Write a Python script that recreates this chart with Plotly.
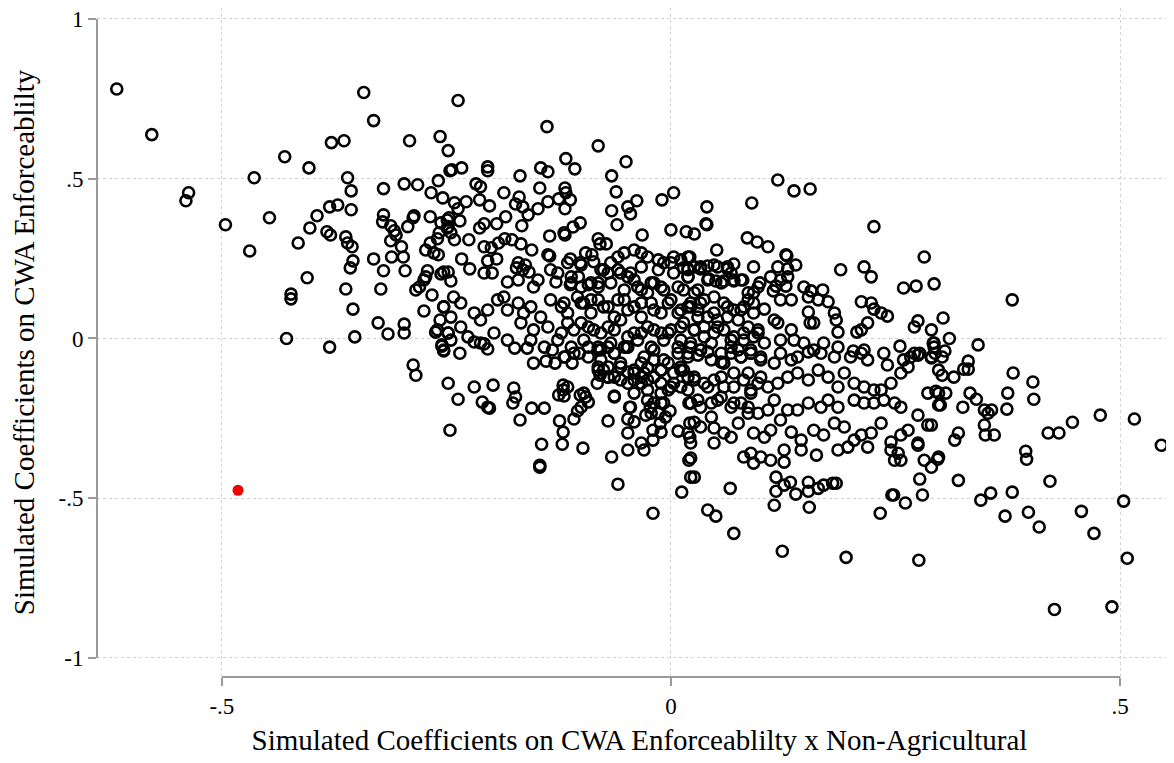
import plotly.graph_objects as go

# Simulated coefficient pairs (x = CWA Enforceability x Non-Agricultural, y = CWA Enforceability)
sims_upper_left = [
    (-0.617, 0.781), (-0.578, 0.638), (-0.537, 0.456), (-0.540, 0.431), (-0.496, 0.356),
    (-0.464, 0.503), (-0.469, 0.274), (-0.447, 0.378), (-0.430, 0.569), (-0.403, 0.534),
    (-0.415, 0.299), (-0.402, 0.346), (-0.394, 0.384), (-0.405, 0.190), (-0.423, 0.139),
    (-0.423, 0.124), (-0.428, 0.000), (-0.380, -0.027), (-0.378, 0.613), (-0.364, 0.619),
    (-0.342, 0.770), (-0.331, 0.682), (-0.360, 0.503), (-0.356, 0.462), (-0.356, 0.403),
    (-0.380, 0.412), (-0.371, 0.418), (-0.383, 0.334), (-0.379, 0.324), (-0.362, 0.318),
    (-0.360, 0.299), (-0.355, 0.287), (-0.354, 0.243), (-0.357, 0.221), (-0.362, 0.155),
    (-0.354, 0.092), (-0.352, 0.005), (-0.320, 0.469), (-0.297, 0.484), (-0.282, 0.481),
    (-0.291, 0.619), (-0.257, 0.632), (-0.248, 0.588), (-0.246, 0.525), (-0.259, 0.494),
    (-0.267, 0.456), (-0.254, 0.440), (-0.320, 0.387), (-0.321, 0.365), (-0.312, 0.353),
    (-0.308, 0.337), (-0.306, 0.324), (-0.286, 0.384), (-0.287, 0.378), (-0.293, 0.350),
    (-0.268, 0.381), (-0.249, 0.371), (-0.248, 0.350), (-0.258, 0.331), (-0.260, 0.312),
    (-0.312, 0.306), (-0.300, 0.287), (-0.298, 0.255), (-0.311, 0.255), (-0.331, 0.249),
    (-0.268, 0.299), (-0.273, 0.277), (-0.264, 0.268), (-0.259, 0.262), (-0.320, 0.212),
    (-0.296, 0.212), (-0.271, 0.212), (-0.273, 0.193), (-0.275, 0.183), (-0.256, 0.202),
    (-0.248, 0.208), (-0.323, 0.155), (-0.284, 0.152), (-0.280, 0.161), (-0.266, 0.136),
    (-0.253, 0.099), (-0.275, 0.086), (-0.326, 0.049), (-0.315, 0.014), (-0.297, 0.045),
    (-0.297, 0.017), (-0.257, 0.058), (-0.260, 0.027), (-0.248, 0.017), (-0.255, -0.020),
]

sims_upper_mid = [
    (-0.237, 0.745), (-0.138, 0.663), (-0.081, 0.603), (-0.050, 0.553), (-0.117, 0.563),
    (-0.107, 0.531), (-0.145, 0.534), (-0.137, 0.522), (-0.204, 0.537), (-0.204, 0.525),
    (-0.244, 0.528), (-0.233, 0.534), (-0.168, 0.509), (-0.066, 0.509), (-0.217, 0.484),
    (-0.212, 0.475), (-0.186, 0.456), (-0.146, 0.471), (-0.118, 0.471), (-0.117, 0.456),
    (-0.169, 0.443), (-0.173, 0.421), (-0.165, 0.412), (-0.061, 0.459), (-0.038, 0.431),
    (-0.010, 0.434), (0.003, 0.456), (-0.241, 0.425), (-0.228, 0.428), (-0.237, 0.406),
    (-0.213, 0.434), (-0.202, 0.415), (-0.137, 0.428), (-0.125, 0.437), (-0.112, 0.434),
    (-0.148, 0.406), (-0.159, 0.387), (-0.118, 0.406), (-0.066, 0.400), (-0.048, 0.412),
    (-0.045, 0.390), (-0.256, 0.362), (-0.247, 0.378), (-0.235, 0.368), (-0.249, 0.346),
    (-0.245, 0.331), (-0.241, 0.309), (-0.208, 0.359), (-0.213, 0.346), (-0.194, 0.359),
    (-0.184, 0.381), (-0.166, 0.353), (-0.101, 0.362), (-0.109, 0.349), (-0.119, 0.331),
    (-0.118, 0.324), (-0.135, 0.321), (-0.060, 0.356), (-0.032, 0.324), (0.000, 0.340),
    (0.017, 0.334), (0.026, 0.327), (-0.225, 0.309), (-0.208, 0.287), (-0.200, 0.284),
    (-0.192, 0.299), (-0.185, 0.312), (-0.177, 0.309), (-0.167, 0.296), (-0.155, 0.277),
    (-0.137, 0.262), (-0.135, 0.258), (-0.112, 0.249), (-0.101, 0.237), (-0.095, 0.268),
    (-0.088, 0.262), (-0.081, 0.312), (-0.072, 0.296), (-0.079, 0.296), (-0.233, 0.249),
    (-0.224, 0.218), (-0.253, 0.208), (-0.245, 0.180), (-0.204, 0.243), (-0.194, 0.249),
    (-0.199, 0.205), (-0.208, 0.205), (-0.170, 0.237), (-0.162, 0.230), (-0.165, 0.215),
    (-0.158, 0.208), (-0.172, 0.221), (-0.182, 0.177), (-0.170, 0.183), (-0.148, 0.183),
    (-0.153, 0.161), (-0.134, 0.215), (-0.126, 0.205), (-0.128, 0.177), (-0.111, 0.193),
    (-0.103, 0.193), (-0.112, 0.168), (-0.100, 0.161), (-0.089, 0.174), (-0.081, 0.174),
    (-0.078, 0.215), (-0.067, 0.237), (-0.059, 0.255), (-0.052, 0.268), (-0.041, 0.277),
    (-0.033, 0.268), (-0.026, 0.255), (-0.014, 0.246), (-0.008, 0.237), (0.003, 0.255),
    (0.011, 0.246), (0.019, 0.255), (-0.070, 0.205), (-0.056, 0.205), (-0.048, 0.193),
    (-0.041, 0.183), (-0.033, 0.152), (-0.026, 0.143), (-0.019, 0.174), (-0.011, 0.161),
    (0.003, 0.205), (0.019, 0.215), (0.026, 0.224),
]

sims_center_band = [
    (-0.253, 0.099), (-0.242, 0.130), (-0.234, 0.111), (-0.245, 0.067), (-0.248, 0.017),
    (-0.234, 0.036), (-0.219, 0.080), (-0.212, 0.058), (-0.204, 0.089), (-0.193, 0.121),
    (-0.186, 0.130), (-0.182, 0.089), (-0.170, 0.111), (-0.164, 0.080), (-0.156, 0.099),
    (-0.145, 0.067), (-0.134, 0.121), (-0.122, 0.099), (-0.115, 0.080), (-0.104, 0.130),
    (-0.097, 0.111), (-0.089, 0.080), (-0.081, 0.121), (-0.070, 0.099), (-0.063, 0.067),
    (-0.052, 0.121), (-0.041, 0.099), (-0.033, 0.067), (-0.022, 0.111), (-0.011, 0.080),
    (0.000, 0.121), (0.011, 0.089), (0.022, 0.111), (0.030, 0.067), (-0.167, 0.049),
    (-0.153, 0.027), (-0.137, 0.036), (-0.122, 0.017), (-0.108, 0.027), (-0.092, 0.036),
    (-0.078, 0.017), (-0.063, 0.027), (-0.048, 0.005), (-0.033, 0.017), (-0.019, 0.027),
    (-0.003, 0.017), (0.011, 0.036), (0.026, 0.027), (-0.245, -0.005), (-0.226, 0.005),
    (-0.212, -0.014), (-0.197, 0.017), (-0.182, -0.005), (-0.156, -0.005), (-0.141, -0.027),
    (-0.126, -0.005), (-0.111, -0.027), (-0.097, -0.005), (-0.081, -0.027), (-0.067, -0.014),
    (-0.052, -0.027), (-0.037, -0.005), (-0.022, -0.027), (-0.008, -0.005), (0.008, -0.027),
]

sims_upper_right = [
    (0.119, 0.496), (0.137, 0.462), (0.155, 0.468), (0.090, 0.424), (0.040, 0.412),
    (0.039, 0.359), (0.040, 0.356), (0.085, 0.315), (0.096, 0.302), (0.108, 0.287),
    (0.226, 0.350), (0.282, 0.255), (0.051, 0.277), (0.021, 0.255), (0.019, 0.218),
    (0.019, 0.193), (0.033, 0.218), (0.041, 0.227), (0.052, 0.224), (0.063, 0.218),
    (0.070, 0.233), (0.067, 0.205), (0.042, 0.187), (0.050, 0.180), (0.059, 0.180),
    (0.070, 0.180), (0.080, 0.183), (0.128, 0.262), (0.129, 0.259), (0.139, 0.230),
    (0.130, 0.218), (0.119, 0.224), (0.111, 0.193), (0.122, 0.183), (0.130, 0.193),
    (0.128, 0.164), (0.189, 0.215), (0.215, 0.224), (0.223, 0.193), (0.259, 0.158),
    (0.273, 0.164), (0.293, 0.171), (0.099, 0.174), (0.092, 0.143), (0.086, 0.121),
    (0.148, 0.161), (0.156, 0.149), (0.153, 0.130), (0.169, 0.152), (0.164, 0.121),
    (0.175, 0.115), (0.212, 0.115), (0.223, 0.111), (0.226, 0.092), (0.234, 0.080),
    (0.241, 0.070), (0.219, 0.049), (0.212, 0.027), (0.207, 0.020), (0.186, 0.020),
    (0.182, 0.080), (0.184, 0.058), (0.275, 0.055), (0.271, 0.036), (0.290, 0.027),
    (0.153, 0.083), (0.155, 0.049), (0.159, 0.049), (0.104, 0.092), (0.122, 0.121),
    (0.134, 0.121), (0.114, 0.149), (0.117, 0.164), (0.115, 0.058), (0.119, 0.049),
    (0.122, -0.005), (0.134, 0.027), (0.137, -0.005), (0.148, -0.014), (0.159, -0.036),
    (0.170, -0.014), (0.186, -0.027), (0.203, -0.039), (0.215, -0.036), (0.255, -0.024),
    (0.271, -0.046), (0.277, -0.046), (0.292, -0.014), (0.294, -0.046),
    (0.014, 0.152), (0.026, 0.143), (0.037, 0.121), (0.048, 0.130), (0.059, 0.111),
    (0.070, 0.089), (0.081, 0.099), (0.092, 0.080), (0.019, 0.099), (0.030, 0.089),
    (0.041, 0.067), (0.052, 0.058), (0.063, 0.067), (0.075, 0.058), (0.086, 0.036),
    (0.097, 0.017), (0.014, 0.049), (0.026, 0.027), (0.037, 0.036), (0.048, 0.017),
    (0.059, 0.027), (0.070, 0.005), (0.081, -0.005), (0.092, 0.005), (0.104, -0.014),
    (0.022, -0.027), (0.033, -0.036), (0.045, -0.014), (0.056, -0.046), (0.067, -0.027),
    (0.078, -0.058), (0.089, -0.036), (0.100, -0.058),
]

sims_lower_left = [
    (-0.262, 0.020), (-0.255, -0.024), (-0.253, -0.039), (-0.287, -0.083), (-0.284, -0.115),
    (-0.248, -0.140), (-0.246, -0.287), (-0.253, -0.036), (-0.235, -0.046), (-0.219, -0.011),
    (-0.208, -0.017), (-0.204, -0.033), (-0.174, -0.030), (-0.160, -0.030), (-0.153, -0.077),
    (-0.139, -0.071), (-0.129, -0.077), (-0.132, -0.036), (-0.118, -0.058), (-0.110, -0.077),
    (-0.102, -0.046), (-0.092, -0.058), (-0.081, -0.036), (-0.070, -0.027), (-0.063, -0.046),
    (-0.049, -0.027), (-0.237, -0.190), (-0.219, -0.152), (-0.210, -0.199), (-0.204, -0.215),
    (-0.202, -0.218), (-0.198, -0.146), (-0.175, -0.155), (-0.173, -0.183), (-0.176, -0.202),
    (-0.168, -0.255), (-0.155, -0.218), (-0.141, -0.218), (-0.144, -0.331), (-0.146, -0.397),
    (-0.146, -0.403), (-0.124, -0.258), (-0.120, -0.293), (-0.121, -0.331), (-0.120, -0.146),
    (-0.120, -0.161), (-0.125, -0.177), (-0.119, -0.180), (-0.108, -0.252), (-0.104, -0.227),
    (-0.098, -0.343), (-0.101, -0.177), (-0.095, -0.183), (-0.092, -0.199), (-0.082, -0.140),
    (-0.079, -0.115), (-0.075, -0.099), (-0.081, -0.089), (-0.063, -0.180), (-0.070, -0.258),
    (-0.066, -0.371), (-0.059, -0.456), (-0.048, -0.349), (-0.048, -0.296), (-0.048, -0.252),
    (-0.046, -0.215), (-0.041, -0.261), (-0.041, -0.171), (-0.033, -0.140), (-0.026, -0.161),
    (-0.019, -0.121), (-0.011, -0.140), (-0.030, -0.108), (-0.041, -0.099), (-0.033, -0.327),
    (-0.030, -0.349), (-0.020, -0.318), (-0.020, -0.287), (-0.011, -0.293), (-0.012, -0.265),
    (-0.014, -0.234), (-0.022, -0.234), (-0.028, -0.240), (-0.006, -0.246), (-0.001, -0.227),
    (-0.008, -0.202), (-0.019, -0.202), (-0.023, -0.215), (0.008, -0.290), (0.012, -0.481),
    (-0.020, -0.547), (-0.078, -0.067), (-0.070, -0.089), (-0.063, -0.121), (-0.056, -0.077),
    (-0.048, -0.105), (-0.041, -0.130), (-0.033, -0.077), (-0.026, -0.092), (-0.019, -0.067),
    (-0.011, -0.099), (-0.003, -0.077), (0.003, -0.108), (0.011, -0.089), (0.019, -0.121),
    (0.003, -0.140), (-0.003, -0.161), (0.011, -0.152), (0.019, -0.161), (-0.011, -0.171),
    (-0.070, -0.121), (-0.056, -0.130), (-0.048, -0.140), (-0.033, -0.121), (0.020, -0.202),
    (0.021, -0.265), (0.021, -0.309), (0.020, -0.381), (0.022, -0.434),
]

sims_lower_right = [
    (0.019, -0.046), (0.030, -0.052), (0.041, -0.042), (0.056, -0.074), (0.067, -0.046),
    (0.078, -0.058), (0.089, -0.046), (0.100, -0.067), (0.115, -0.077), (0.122, -0.046),
    (0.134, -0.067), (0.141, -0.058), (0.153, -0.042), (0.167, -0.046), (0.182, -0.058),
    (0.200, -0.058), (0.212, -0.046), (0.219, -0.067), (0.237, -0.046), (0.241, -0.083),
    (0.259, -0.067), (0.267, -0.058), (0.275, -0.052), (0.290, -0.058), (0.298, -0.099),
    (0.014, -0.099), (0.026, -0.121), (0.037, -0.140), (0.048, -0.130), (0.059, -0.152),
    (0.070, -0.108), (0.081, -0.130), (0.089, -0.161), (0.100, -0.121), (0.108, -0.152),
    (0.119, -0.140), (0.130, -0.121), (0.141, -0.108), (0.153, -0.130), (0.164, -0.099),
    (0.175, -0.121), (0.186, -0.152), (0.193, -0.108), (0.204, -0.140), (0.215, -0.152),
    (0.226, -0.161), (0.234, -0.161), (0.245, -0.140), (0.256, -0.108), (0.264, -0.089),
    (0.286, -0.171), (0.298, -0.171), (0.022, -0.202), (0.030, -0.193), (0.045, -0.202),
    (0.056, -0.183), (0.067, -0.215), (0.078, -0.202), (0.089, -0.171), (0.097, -0.234),
    (0.108, -0.224), (0.115, -0.193), (0.130, -0.224), (0.141, -0.224), (0.153, -0.202),
    (0.167, -0.215), (0.175, -0.193), (0.186, -0.215), (0.204, -0.193), (0.215, -0.202),
    (0.226, -0.202), (0.237, -0.193), (0.249, -0.202), (0.256, -0.215), (0.275, -0.240),
    (0.286, -0.271), (0.298, -0.208), (0.019, -0.296), (0.026, -0.262), (0.033, -0.277),
    (0.045, -0.246), (0.048, -0.280), (0.059, -0.296), (0.067, -0.309), (0.075, -0.265),
    (0.086, -0.234), (0.092, -0.296), (0.104, -0.309), (0.111, -0.287), (0.122, -0.255),
    (0.134, -0.293), (0.145, -0.318), (0.159, -0.287), (0.170, -0.302), (0.182, -0.265),
    (0.193, -0.277), (0.204, -0.318), (0.212, -0.302), (0.223, -0.296), (0.234, -0.265),
    (0.245, -0.324), (0.256, -0.302), (0.264, -0.287), (0.275, -0.327), (0.022, -0.327),
    (0.048, -0.327), (0.081, -0.371), (0.089, -0.359), (0.100, -0.371), (0.111, -0.381),
    (0.126, -0.349), (0.126, -0.387), (0.145, -0.349), (0.162, -0.365), (0.186, -0.349),
    (0.197, -0.340), (0.219, -0.340), (0.245, -0.349), (0.249, -0.381), (0.253, -0.359),
    (0.256, -0.381), (0.275, -0.334), (0.282, -0.381), (0.290, -0.403), (0.298, -0.371),
    (0.022, -0.374), (0.092, -0.390), (0.026, -0.434), (0.066, -0.469), (0.041, -0.537),
    (0.050, -0.556), (0.070, -0.610), (0.117, -0.434), (0.117, -0.478), (0.115, -0.522),
    (0.126, -0.459), (0.133, -0.450), (0.139, -0.487), (0.153, -0.450), (0.153, -0.478),
    (0.164, -0.469), (0.170, -0.459), (0.180, -0.453), (0.184, -0.453), (0.154, -0.528),
    (0.124, -0.666), (0.195, -0.685), (0.233, -0.547), (0.246, -0.490), (0.248, -0.490),
    (0.261, -0.515), (0.277, -0.440), (0.280, -0.490), (0.276, -0.694),
]

sims_far_right = [
    (0.380, 0.121), (0.303, 0.064), (0.310, 0.000), (0.293, -0.014), (0.293, -0.027),
    (0.305, -0.039), (0.302, -0.058), (0.290, -0.061), (0.342, -0.020), (0.331, -0.071),
    (0.326, -0.096), (0.331, -0.096), (0.302, -0.115), (0.315, -0.121), (0.381, -0.108),
    (0.403, -0.136), (0.404, -0.190), (0.375, -0.171), (0.374, -0.221), (0.295, -0.165),
    (0.306, -0.171), (0.300, -0.208), (0.333, -0.171), (0.340, -0.190), (0.325, -0.215),
    (0.349, -0.224), (0.353, -0.234), (0.357, -0.224), (0.349, -0.271), (0.350, -0.302),
    (0.360, -0.302), (0.320, -0.296), (0.316, -0.318), (0.290, -0.271), (0.395, -0.353),
    (0.396, -0.378), (0.420, -0.296), (0.432, -0.296), (0.447, -0.262), (0.478, -0.240),
    (0.516, -0.252), (0.546, -0.334), (0.297, -0.378), (0.320, -0.444), (0.345, -0.506),
    (0.356, -0.484), (0.380, -0.481), (0.422, -0.447), (0.372, -0.556), (0.398, -0.544),
    (0.410, -0.590), (0.457, -0.541), (0.471, -0.610), (0.504, -0.509), (0.508, -0.688),
    (0.427, -0.848), (0.491, -0.840),
]

sims_dense_core = [
    (-0.115, 0.237), (-0.100, 0.230), (-0.086, 0.240), (-0.075, 0.215), (-0.059, 0.215),
    (-0.045, 0.205), (-0.033, 0.224), (-0.014, 0.215), (0.000, 0.237), (0.014, 0.221),
    (0.033, 0.224), (0.048, 0.230), (0.063, 0.224), (0.078, 0.183), (0.092, 0.224),
    (-0.111, 0.174), (-0.092, 0.168), (-0.081, 0.161), (-0.067, 0.174), (-0.052, 0.152),
    (-0.037, 0.161), (-0.022, 0.174), (-0.008, 0.152), (0.008, 0.161), (0.019, 0.193),
    (0.030, 0.152), (0.041, 0.183), (0.056, 0.174), (0.070, 0.183), (0.086, 0.143),
    (0.097, 0.161), (-0.119, 0.111), (-0.100, 0.111), (-0.089, 0.121), (-0.075, 0.099),
    (-0.059, 0.121), (-0.048, 0.089), (-0.033, 0.111), (-0.019, 0.089), (-0.003, 0.111),
    (0.008, 0.080), (0.022, 0.099), (0.033, 0.111), (0.048, 0.080), (0.063, 0.099),
    (0.078, 0.089), (0.092, 0.111), (-0.115, 0.049), (-0.100, 0.049), (-0.086, 0.027),
    (-0.070, 0.036), (-0.056, 0.058), (-0.041, 0.017), (-0.026, 0.036), (-0.011, 0.017),
    (0.000, 0.027), (0.011, -0.005), (0.022, -0.014), (0.037, 0.005), (0.052, 0.036),
    (0.067, -0.005), (0.081, 0.017), (0.097, 0.027), (-0.119, -0.058), (-0.108, -0.046),
    (-0.092, -0.027), (-0.078, -0.036), (-0.063, -0.046), (-0.048, -0.027), (-0.030, -0.058),
    (-0.019, -0.036), (-0.008, -0.067), (0.008, -0.046), (0.019, -0.058), (0.033, -0.036),
    (0.045, -0.067), (0.059, -0.077), (0.075, -0.036), (0.089, -0.046), (-0.115, -0.152),
    (-0.097, -0.171), (-0.081, -0.099), (-0.070, -0.121), (-0.056, -0.089), (-0.041, -0.108),
    (-0.026, -0.130), (-0.011, -0.099), (0.000, -0.152), (0.011, -0.099), (0.026, -0.130),
    (0.041, -0.152), (0.056, -0.121), (0.070, -0.152), (0.086, -0.108), (0.097, -0.140),
    (-0.100, -0.215), (-0.063, -0.183), (-0.045, -0.215), (-0.026, -0.193), (-0.011, -0.202),
    (0.022, -0.202), (0.033, -0.215), (0.052, -0.193), (0.070, -0.202), (0.086, -0.215),
]

# Highlighted actual estimate (red)
actual_x = [-0.482]
actual_y = [-0.475]

x_tick_vals = [-0.5, 0, 0.5]
x_tick_text = ["-.5", "0", ".5"]
y_tick_vals = [-1, -0.5, 0, 0.5, 1]
y_tick_text = ["-1", "-.5", "0", ".5", "1"]

all_sims = (sims_upper_left + sims_upper_mid + sims_center_band + sims_upper_right
            + sims_lower_left + sims_lower_right + sims_far_right + sims_dense_core)
sim_x = [p[0] for p in all_sims]
sim_y = [p[1] for p in all_sims]

SERIF = "Liberation Serif, Times New Roman, serif"
AXIS_GRAY = "#9a9a9a"
GRID_GRAY = "#d2d2d2"

fig = go.Figure()
fig.add_trace(go.Scatter(
    x=sim_x, y=sim_y, mode="markers",
    marker=dict(symbol="circle-open", size=11, color="black", line=dict(width=2.6, color="black")),
    showlegend=False, hoverinfo="skip",
))
fig.add_trace(go.Scatter(
    x=actual_x, y=actual_y, mode="markers",
    marker=dict(symbol="circle", size=11, color="#f00000", line=dict(width=0)),
    showlegend=False, hoverinfo="skip",
))

fig.update_layout(
    width=1174, height=763,
    margin=dict(l=89, r=0, t=0, b=94, autoexpand=False),
    paper_bgcolor="white", plot_bgcolor="white",
    font=dict(family=SERIF, color="black"),
    xaxis=dict(
        range=[-0.639, 0.569],
        tickvals=x_tick_vals, ticktext=x_tick_text,
        ticks="outside", ticklen=8, tickwidth=1.5, tickcolor=AXIS_GRAY,
        tickfont=dict(family=SERIF, size=23, color="black"),
        ticklabeloverflow="allow",
        showgrid=True, gridcolor=GRID_GRAY, griddash="dot", gridwidth=1.3,
        zeroline=False, showline=False, automargin=False,
        title=dict(text="Simulated Coefficients on CWA Enforceablilty x Non-Agricultural",
                   font=dict(family=SERIF, size=29, color="black"), standoff=12),
    ),
    yaxis=dict(
        range=[-1.0595, 1.0344],
        tickvals=y_tick_vals, ticktext=y_tick_text,
        ticks="outside", ticklen=8, tickwidth=1.5, tickcolor=AXIS_GRAY,
        tickfont=dict(family=SERIF, size=23, color="black"),
        ticklabeloverflow="allow",
        showgrid=True, gridcolor=GRID_GRAY, griddash="dot", gridwidth=1.3,
        zeroline=False, showline=False, automargin=False,
        title=dict(text="Simulated Coefficients on CWA Enforceablilty",
                   font=dict(family=SERIF, size=29, color="black"), standoff=16),
    ),
    shapes=[
        dict(type="line", xref="paper", yref="y", x0=0, x1=0, y0=-1, y1=1,
             line=dict(color=AXIS_GRAY, width=2)),
        dict(type="line", xref="x", yref="paper", x0=-0.5, x1=0.5, y0=0, y1=0,
             line=dict(color=AXIS_GRAY, width=2)),
    ],
)

fig.write_html("out.html")
